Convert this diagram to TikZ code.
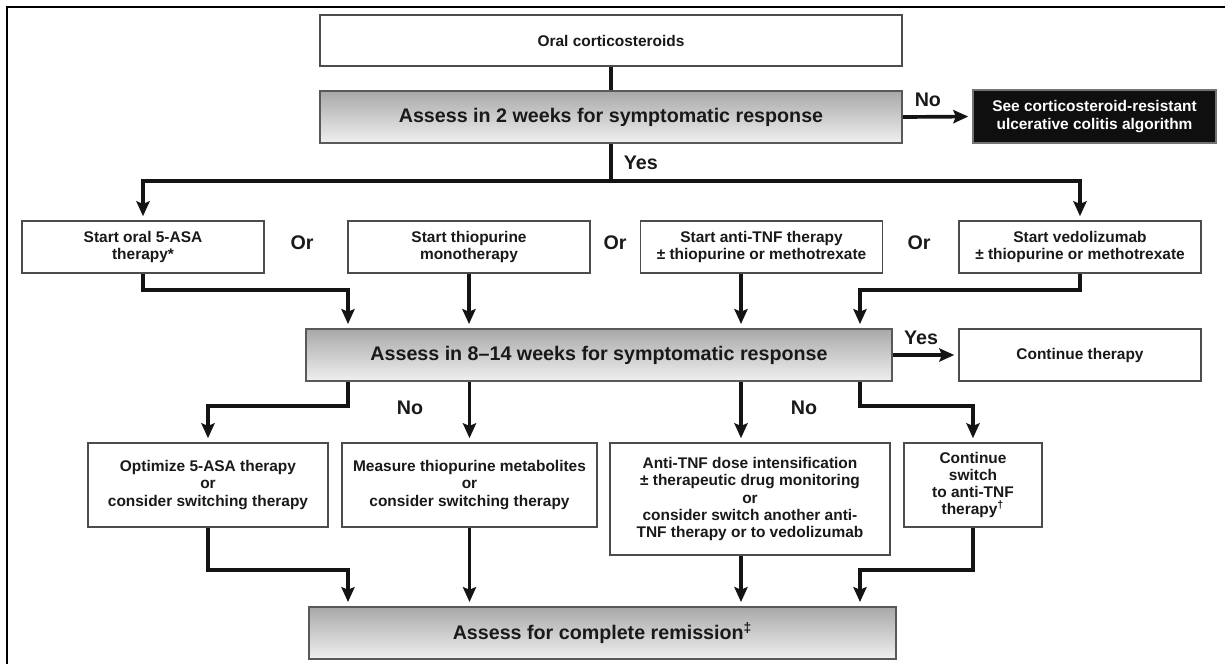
\documentclass[tikz,border=0pt]{standalone}
\usepackage{fontspec}
\setmainfont{Liberation Sans}
\usetikzlibrary{arrows.meta,positioning}

\begin{document}
\begin{tikzpicture}[x=0.02cm, y=-0.02cm, auto]
    % Define styles
    \tikzstyle{plainbox} = [rectangle, draw=black!70, line width=0.9pt, fill=white, inner sep=0pt, align=center, text=black!90, font=\fontsize{8.8}{9.8}\selectfont\bfseries]
    \tikzstyle{assessbox} = [rectangle, draw=black!65, line width=1.1pt, top color=black!34, bottom color=black!6, minimum height=1.04cm, inner sep=0pt, text=black!90, font=\fontsize{11.2}{13}\selectfont\bfseries]
    \tikzstyle{darkbox} = [rectangle, draw=black!55, line width=0.9pt, fill=black!94, text=white, inner sep=0pt, align=center, font=\fontsize{8.8}{9.8}\selectfont\bfseries]
    \tikzstyle{tag} = [inner sep=0pt, text=black!90, font=\fontsize{11.2}{12}\selectfont\bfseries]
    \tikzstyle{line} = [line width=2.1pt, black!92]
    \tikzstyle{arrow} = [line, -{Stealth[length=8.5pt, width=7.5pt, inset=1.5pt]}, shorten >=0.08cm]

    % Frame
    \useasboundingbox (0,0) rectangle (1225,664);
    \draw [line width=1.2pt] (7,664) -- (7,7) -- (1225,7);

    % Nodes
    \node [plainbox, minimum width=11.64cm, minimum height=1.02cm] (oral) at (611,40.5) {Oral corticosteroids};
    \node [assessbox, minimum width=11.64cm] (assess2) at (611,117) {Assess in 2 weeks for symptomatic response};
    \node [darkbox, minimum width=4.86cm, minimum height=1.06cm] (resist) at (1094.5,116.5) {See corticosteroid-resistant\\ulcerative colitis algorithm};

    \node [plainbox, minimum width=4.84cm, minimum height=1.04cm] (asa) at (143,247) {Start oral 5-ASA\\therapy*};
    \node [plainbox, minimum width=4.84cm, minimum height=1.04cm] (thio) at (469,247) {Start thiopurine\\monotherapy};
    \node [plainbox, minimum width=4.84cm, minimum height=1.04cm] (tnf) at (761.5,247) {Start anti-TNF therapy\\± thiopurine or methotrexate};
    \node [plainbox, minimum width=4.84cm, minimum height=1.04cm] (veda) at (1080,247) {Start vedolizumab\\± thiopurine or methotrexate};
    \node [tag] (or1) at (302,243) {Or};
    \node [tag] (or2) at (615,243) {Or};
    \node [tag] (or3) at (919,243) {Or};

    \node [assessbox, minimum width=11.72cm] (assess8) at (599,355) {Assess in 8--14 weeks for symptomatic response};
    \node [plainbox, minimum width=4.84cm, minimum height=1.04cm] (cont) at (1080,355) {Continue therapy};

    \node [plainbox, minimum width=4.8cm, minimum height=1.68cm] (opt) at (208,485) {Optimize 5-ASA therapy\\or\\consider switching therapy};
    \node [plainbox, minimum width=5.1cm, minimum height=1.68cm] (meas) at (469.5,485) {Measure thiopurine metabolites\\or\\consider switching therapy};
    \node [plainbox, minimum width=5.6cm, minimum height=2.24cm] (dose) at (750,499) {Anti-TNF dose intensification\\± therapeutic drug monitoring\\or\\consider switch another anti-\\TNF therapy or to vedolizumab};
    \node [plainbox, minimum width=2.76cm, minimum height=1.68cm] (sw) at (973,485) {Continue\\switch\\to anti-TNF\\therapy\textsuperscript{†}};
    \node [tag] (no1) at (410,408) {No};
    \node [tag] (no2) at (804,408) {No};

    \node [assessbox, minimum width=11.74cm] (remis) at (602.5,633) {Assess for complete remission\textsuperscript{‡}};

    % Columns of the merging arrows
    \coordinate (split) at (611,181);
    \coordinate (lcol) at (348,0);
    \coordinate (mcol) at (741,0);
    \coordinate (rcol) at (860,0);

    % Arrows
    \draw [line] (oral) -- (assess2);
    \draw [arrow] (assess2.east) -- node [tag, above=0.17cm, pos=0.36] (no0) {No} (resist.west);
    \draw [line] (assess2.south) -- node [tag, right=0.22cm, pos=0.5] (yes1) {Yes} (split);
    \draw [arrow] (split) -| (asa.north);
    \draw [arrow] (split) -| (veda.north);

    \draw [arrow] (asa.south) -- ++(0,16) -| (assess8.north -| lcol);
    \draw [arrow] (thio.south) -- (assess8.north -| thio.south);
    \draw [arrow] (tnf.south -| mcol) -- (assess8.north -| mcol);
    \draw [arrow] (veda.south) -- ++(0,16) -| (assess8.north -| rcol);
    \draw [arrow] (assess8.east) -- node [tag, above=0.17cm, pos=0.43] (yes2) {Yes} (cont.west);

    \draw [arrow] (assess8.south -| lcol) -- ++(0,24) -| (opt.north);
    \draw [arrow] (assess8.south -| meas.north) -- (meas.north);
    \draw [arrow] (assess8.south -| mcol) -- (dose.north -| mcol);
    \draw [arrow] (assess8.south -| rcol) -- ++(0,24) -| (sw.north);

    \draw [arrow] (opt.south) -- ++(0,42) -| (remis.north -| lcol);
    \draw [arrow] (meas.south) -- (remis.north -| meas.south);
    \draw [arrow] (dose.south -| mcol) -- (remis.north -| mcol);
    \draw [arrow] (sw.south) -- ++(0,42) -| (remis.north -| rcol);
\end{tikzpicture}
\end{document}
